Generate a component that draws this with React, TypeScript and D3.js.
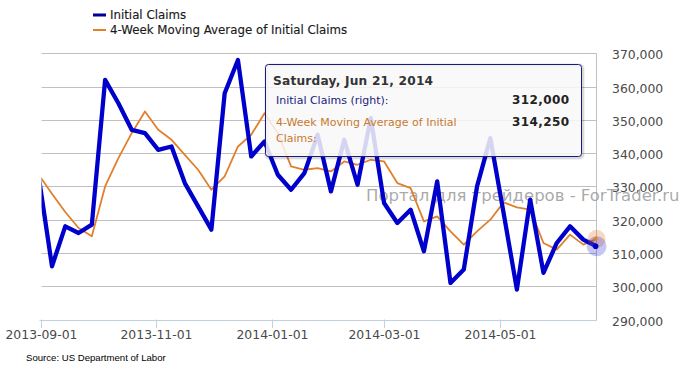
import React from 'react';
import * as d3 from 'd3';

const dates = [
  '2013-08-31', '2013-09-07', '2013-09-14', '2013-09-21', '2013-09-28',
  '2013-10-05', '2013-10-12', '2013-10-19', '2013-10-26',
  '2013-11-02', '2013-11-09', '2013-11-16', '2013-11-23', '2013-11-30',
  '2013-12-07', '2013-12-14', '2013-12-21', '2013-12-28',
  '2014-01-04', '2014-01-11', '2014-01-18', '2014-01-25',
  '2014-02-01', '2014-02-08', '2014-02-15', '2014-02-22',
  '2014-03-01', '2014-03-08', '2014-03-15', '2014-03-22', '2014-03-29',
  '2014-04-05', '2014-04-12', '2014-04-19', '2014-04-26',
  '2014-05-03', '2014-05-10', '2014-05-17', '2014-05-24', '2014-05-31',
  '2014-06-07', '2014-06-14', '2014-06-21',
];

const initialClaims = [
  333000, 306000, 318000, 316000, 318500,
  362000, 355000, 347000, 346000,
  341000, 342000, 331000, 324000, 317000,
  358000, 368000, 339000, 343500,
  333500, 329000, 334000, 345500,
  328500, 344000, 330500, 350500,
  325000, 319000, 323000, 310500, 331500,
  301000, 305000, 330000, 344500,
  322000, 299000, 326000, 304000, 313000,
  318000, 314000, 312000,
];

const movingAverage = [
  333500, 327800, 322300, 317500, 315000,
  330000, 338500, 346000, 352500,
  347000, 344000, 339500, 335000, 329000,
  333000, 342000, 345500, 352000,
  346000, 336000, 335000, 335500,
  334500, 337500, 336500, 338000,
  337500, 331000, 329500, 319500, 321000,
  316500, 312500, 316500, 320000,
  325200, 323700, 323000, 313000, 311000,
  315500, 312500, 314250,
];

const yTicks = [290000, 300000, 310000, 320000, 330000, 340000, 350000, 360000, 370000];
const xTicks = ['2013-09-01', '2013-11-01', '2014-01-01', '2014-03-01', '2014-05-01'];
const domainStart = '2013-09-01';
const domainEnd = '2014-06-21';

const seriesNames = ['Initial Claims', '4-Week Moving Average of Initial Claims'];
const tooltipTitle = 'Saturday, Jun 21, 2014';
const sourceText = 'Source: US Department of Labor';
const watermark = 'Портал для трейдеров - ForTrader.ru';

const BLUE = '#0000cc';
const ORANGE = '#e0802e';
const FONT = '"DejaVu Sans", Verdana, sans-serif';

export default function App() {
  const W = 683;
  const H = 369;
  const left = 41.5;
  const right = 596.6;
  const top = 53.3;
  const bottom = 319.5;

  const parse = d3.utcParse('%Y-%m-%d');
  const x = d3
    .scaleUtc()
    .domain([parse(domainStart) as Date, parse(domainEnd) as Date])
    .range([40.6, right]);
  const y = d3.scaleLinear().domain([290000, 370000]).range([bottom, top]);

  const pts = (vals: number[]) => vals.map((v, i) => [x(parse(dates[i]) as Date), y(v)] as [number, number]);
  const line = d3.line<[number, number]>().x((d) => d[0]).y((d) => d[1]);

  const blue = pts(initialClaims);
  const orange = pts(movingAverage);
  const lastB = blue[blue.length - 1];
  const lastO = orange[orange.length - 1];
  const fmt = d3.format(',');

  const crisp = (v: number) => Math.round(v) + 0.5;

  const tx = 265.5;
  const ty = 64.5;
  const tw = 316;
  const th = 92;

  return (
    <svg
      width={W}
      height={H}
      viewBox={`0 0 ${W} ${H}`}
      style={{ position: 'absolute', left: 0, top: 0, background: '#fff' }}
      fontFamily={FONT}
    >
      <rect x={0} y={0} width={W} height={H} fill="#fff" />
      <defs>
        <clipPath id="plotclip">
          <rect x={left} y={0} width={right - left + 1} height={bottom + 2} />
        </clipPath>
      </defs>

      {/* legend */}
      <g>
        <rect x={93} y={13.5} width={13} height={3} fill="#000099" />
        <text x={110} y={19} fontSize={11.8} fill="#1a1a1a" stroke="#1a1a1a" strokeWidth={0.15}>
          {seriesNames[0]}
        </text>
        <rect x={93} y={29} width={13} height={2} fill={ORANGE} />
        <text x={110} y={34.3} fontSize={11.8} fill="#1a1a1a" stroke="#1a1a1a" strokeWidth={0.15}>
          {seriesNames[1]}
        </text>
      </g>

      {/* grid */}
      {yTicks.map((t) =>
        t === 290000 ? null : (
          <line key={t} x1={left} x2={right} y1={crisp(y(t))} y2={crisp(y(t))} stroke="#c0c0c0" strokeWidth={1} />
        )
      )}
      <line x1={crisp(right) - 1} x2={crisp(right) - 1} y1={crisp(top)} y2={crisp(bottom)} stroke="#c0c0c0" />

      {/* x axis */}
      <line x1={left - 2} x2={right} y1={crisp(bottom)} y2={crisp(bottom)} stroke="#c0d0e0" />
      {xTicks.map((t) => {
        const xx = crisp(x(parse(t) as Date));
        return (
          <g key={t}>
            <line x1={xx} x2={xx} y1={bottom} y2={328} stroke="#c0d0e0" />
            <text x={xx} y={339} fontSize={12.4} fill="#4a4a4a" textAnchor="middle">
              {t}
            </text>
          </g>
        );
      })}

      {/* y labels (right) */}
      {yTicks.map((t) => (
        <text key={t} x={612} y={y(t) + 6} fontSize={12.4} fill="#4a4a4a">
          {fmt(t)}
        </text>
      ))}

      {/* watermark */}
      <text x={366} y={201} fontSize={16.5} fill="#9a9a9a" fillOpacity={0.85}>
        {watermark}
      </text>

      {/* series */}
      <g clipPath="url(#plotclip)">
        <path d={line(orange) || ''} fill="none" stroke={ORANGE} strokeWidth={1.8} strokeLinejoin="round" strokeLinecap="round" />
        <path d={line(blue) || ''} fill="none" stroke={BLUE} strokeWidth={4.3} strokeLinejoin="round" strokeLinecap="round" />
      </g>

      {/* hover markers */}
      <circle cx={lastO[0]} cy={lastO[1]} r={9} fill={ORANGE} fillOpacity={0.3} />
      <circle cx={lastB[0]} cy={lastB[1]} r={10} fill={BLUE} fillOpacity={0.22} />
      <circle cx={lastO[0] - 1} cy={lastO[1]} r={2} fill={ORANGE} />
      <circle cx={lastB[0] - 1} cy={lastB[1]} r={2.8} fill={BLUE} />

      {/* tooltip */}
      <g>
        <rect x={tx + 1} y={ty + 1} width={tw} height={th} rx={3} fill="none" stroke="#000" strokeOpacity={0.05} strokeWidth={5} />
        <rect x={tx + 1} y={ty + 1} width={tw} height={th} rx={3} fill="none" stroke="#000" strokeOpacity={0.1} strokeWidth={3} />
        <rect x={tx} y={ty} width={tw} height={th} rx={3} fill="#f8f8f8" fillOpacity={0.86} stroke="#1a1a80" strokeWidth={1} />
        <text x={273} y={85} fontSize={12.2} fontWeight="bold" fill="#333" letterSpacing={0.2}>
          {tooltipTitle}
        </text>
        <text x={276} y={104} fontSize={11} fill="#1a1a80">
          {seriesNames[0]} (right):
        </text>
        <text x={569.5} y={104} fontSize={12} fontWeight="bold" fill="#222" textAnchor="end" letterSpacing={0.4}>
          {fmt(initialClaims[initialClaims.length - 1])}
        </text>
        <text x={276} y={125.5} fontSize={11} fill="#c87a30">
          4-Week Moving Average of Initial
        </text>
        <text x={276} y={141.5} fontSize={11} fill="#c87a30">
          Claims:
        </text>
        <text x={569.5} y={126} fontSize={12} fontWeight="bold" fill="#222" textAnchor="end" letterSpacing={0.4}>
          {fmt(movingAverage[movingAverage.length - 1])}
        </text>
      </g>

      {/* source */}
      <text x={26} y={361} fontSize={9.6} fill="#000" fontFamily='"Liberation Sans", Arial, sans-serif'>
        {sourceText}
      </text>
    </svg>
  );
}
